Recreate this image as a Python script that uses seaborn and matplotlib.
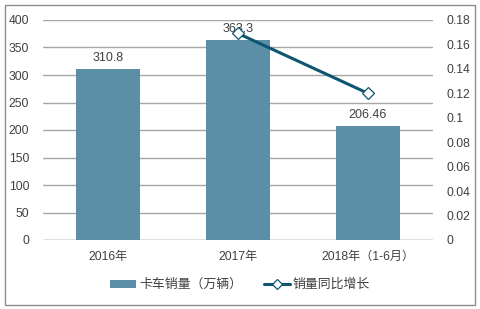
import matplotlib
matplotlib.use("Agg")
import matplotlib.pyplot as plt
import seaborn as sns
import pandas as pd
from matplotlib.lines import Line2D
from matplotlib.patches import Patch, Rectangle

categories = ["2016年", "2017年", "2018年（1-6月）"]
sales = [310.8, 363.3, 206.46]
growth_categories = ["2017年", "2018年（1-6月）"]
growth = [0.169, 0.12]
sales_labels = ["310.8", "363.3", "206.46"]
left_ticks = [0, 50, 100, 150, 200, 250, 300, 350, 400]
right_ticks = [0, 0.02, 0.04, 0.06, 0.08, 0.1, 0.12, 0.14, 0.16, 0.18]
right_tick_labels = ["0", "0.02", "0.04", "0.06", "0.08", "0.1", "0.12", "0.14", "0.16", "0.18"]
legend_bar = "卡车销量（万辆）"
legend_line = "销量同比增长"

sns.set_theme(style="white")
plt.rcParams['font.family'] = ['Liberation Sans', 'Noto Sans CJK SC']

bar_color = "#5B8FA8"
line_color = "#0D5571"
grid_color = "#A6A6A6"
text_color = "#404040"

fig = plt.figure(figsize=(4.81, 3.09), dpi=100)
ax = fig.add_axes([43/481, 1-240/309, 390/481, 220/309])

df = pd.DataFrame({"cat": categories, "sales": sales})
sns.barplot(data=df, x="cat", y="sales", color=bar_color, width=0.49,
            saturation=1, ax=ax, edgecolor="none")
ax.set_xlim(-0.5, 2.5)
ax.set_ylim(0, 400)
ax.set_yticks(left_ticks)
ax.set_xlabel("")
ax.set_ylabel("")
ax.yaxis.grid(True, color=grid_color, linewidth=1)
ax.set_axisbelow(True)
for s in ["top", "right", "left", "bottom"]:
    ax.spines[s].set_visible(False)
ax.axhline(0, color=grid_color, linewidth=1, zorder=0.5)
ax.tick_params(axis="both", length=0, labelsize=8.7, colors=text_color)
ax.tick_params(axis="y", pad=10)
ax.tick_params(axis="x", pad=8)
ax.bar_label(ax.containers[0], labels=sales_labels, padding=4, fontsize=9, color=text_color)

ax2 = ax.twinx()
gx = [categories.index(c) for c in growth_categories]
sns.lineplot(x=gx, y=growth, ax=ax2, color=line_color, linewidth=2.2, marker="D",
             markersize=6, markerfacecolor="white", markeredgecolor=line_color,
             markeredgewidth=0.9)
ax2.set_ylim(0, 0.18)
ax2.set_yticks(right_ticks)
ax2.set_yticklabels(right_tick_labels)
for s in ["top", "right", "left", "bottom"]:
    ax2.spines[s].set_visible(False)
ax2.tick_params(axis="y", length=0, labelsize=8.7, colors=text_color, pad=10)
ax2.set_ylabel("")

handles = [Patch(facecolor=bar_color, edgecolor="none"),
           Line2D([0], [0], color=line_color, linewidth=2.2, marker="D", markersize=5,
                  markerfacecolor="white", markeredgecolor=line_color, markeredgewidth=0.9)]
fig.legend(handles, [legend_bar, legend_line], loc="center", bbox_to_anchor=(240/481, 1-285/309),
           ncol=2, frameon=False, fontsize=9.3, handlelength=2.0, handleheight=0.6,
           columnspacing=1.7, handletextpad=0.2, labelcolor=text_color)

fig.patches.append(Rectangle((5/481, 4/309), 470/481, 300/309, transform=fig.transFigure,
                             fill=False, edgecolor="#8C8C8C", linewidth=1))

fig.savefig("out.png", dpi=100)
